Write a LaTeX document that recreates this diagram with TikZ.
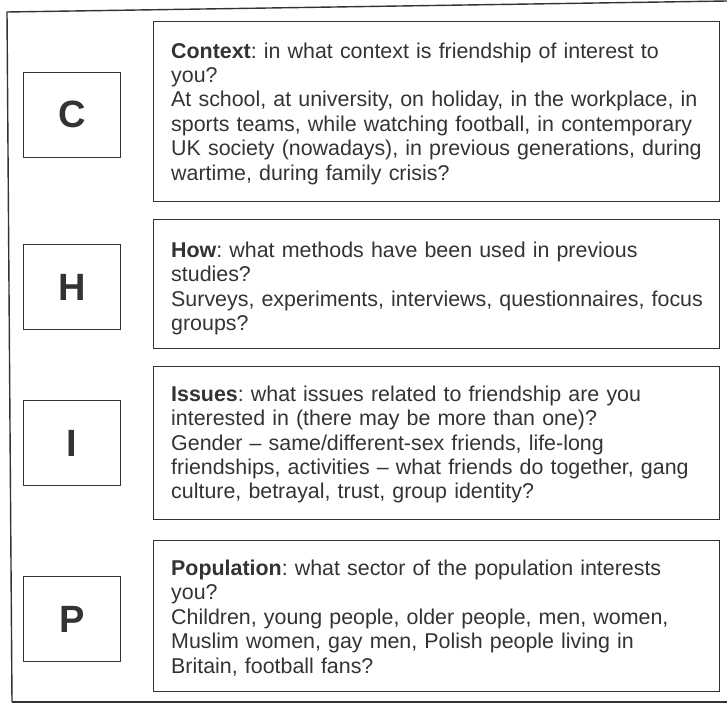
\documentclass[tikz,border=0pt]{standalone}
\usepackage{fontspec}
\setmainfont{Liberation Sans}
\usepackage{tikz}
\usetikzlibrary{positioning}
\usepackage{xcolor}
\definecolor{ink}{gray}{0.2}
\frenchspacing

\begin{document}
\begin{tikzpicture}[x=1pt,y=-1pt,
  box/.style={draw=ink, line width=1.1pt, minimum width=566pt, inner sep=0pt},
  letter/.style={draw=ink, line width=1.1pt, minimum width=97pt, minimum height=85pt, text=ink, font=\fontsize{38}{38}\selectfont\bfseries},
  question/.style={text=ink, inner sep=0pt, text width=545pt, align=left, font=\fontsize{21.4}{24.4}\selectfont\frenchspacing}]
\useasboundingbox (0,0) rectangle (727,704);
%%%PAGE FRAME
\draw[ink, line width=1.4pt] (727,1) -- (7,12) -- (12,702);
\draw[ink, line width=2.4pt] (12,702) -- (727,702);
%%%QUESTION BOXES
\node[box, minimum height=180pt, anchor=north west] (cbox) at (153,21) {};
\node[box, minimum height=129pt, below=17pt of cbox] (hbox) {};
\node[box, minimum height=153pt, below=17pt of hbox] (ibox) {};
\node[box, minimum height=151pt, below=20pt of ibox] (pbox) {};
%%%LETTERS
\node[letter, left=32pt of cbox, yshift=-3pt] (cletter) {C};
\node[letter, left=32pt of hbox, yshift=-3pt] (hletter) {H};
\node[letter, left=32pt of ibox] (iletter) {I};
\node[letter, left=32pt of pbox, yshift=-3pt] (pletter) {P};
%%%TEXTS
\node[question, below right=21.4pt and 18pt of cbox.north west] (ctext) {\textbf{Context}: in what context is friendship of interest to\\
you?\\
At school, at university, on holiday, in the workplace, in\\
sports teams, while watching football, in contemporary\\
UK society (nowadays), in previous generations, during\\
wartime, during family crisis?};
\node[question, below right=22.4pt and 18pt of hbox.north west] (htext) {\textbf{How}: what methods have been used in previous\\
studies?\\
Surveys, experiments, interviews, questionnaires, focus\\
groups?};
\node[question, below right=19.4pt and 18pt of ibox.north west] (itext) {\textbf{Issues}: what issues related to friendship are you\\
interested in (there may be more than one)?\\
Gender -- same/different-sex friends, life-long\\
friendships, activities -- what friends do together, gang\\
culture, betrayal, trust, group identity?};
\node[question, below right=19.4pt and 18pt of pbox.north west] (ptext) {\textbf{Population}: what sector of the population interests\\
you?\\
Children, young people, older people, men, women,\\
Muslim women, gay men, Polish people living in\\
Britain, football fans?};
\end{tikzpicture}
\end{document}
